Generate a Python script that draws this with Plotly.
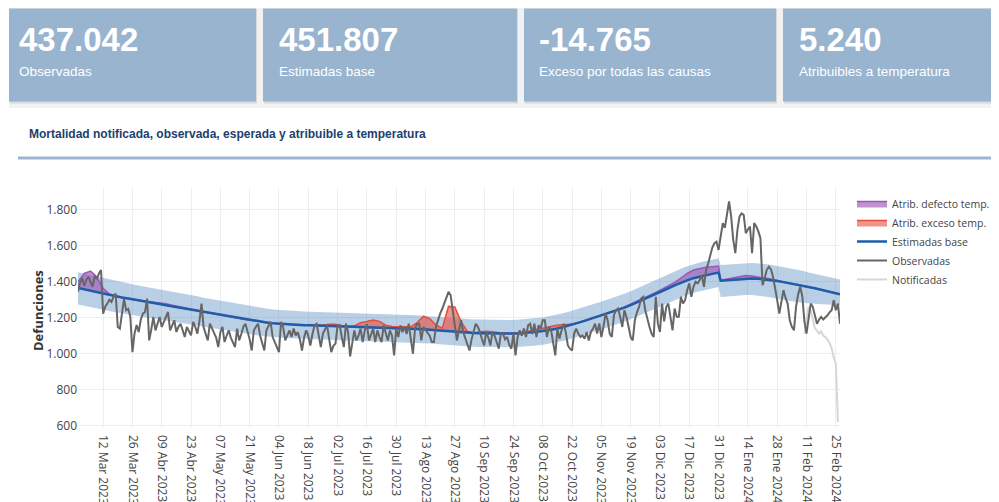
import plotly.graph_objects as go
import pandas as pd

# ---------------- data ----------------
START = "2023-02-28"

observed = [
    1344, 1395, 1420, 1378, 1412, 1428, 1398,
    1372, 1435, 1415, 1446, 1465, 1223, 1262,
    1279, 1300, 1288, 1318, 1335, 1149, 1140,
    1228, 1306, 1242, 1250, 1205, 1009, 1112,
    1160, 1121, 1190, 1223, 1232, 1306, 1074,
    1135, 1204, 1130, 1175, 1204, 1149, 1180,
    1210, 1232, 1130, 1160, 1186, 1121, 1150,
    1167, 1125, 1093, 1149, 1121, 1102, 1177,
    1150, 1112, 1180, 1279, 1149, 1110, 1074,
    1167, 1140, 1121, 1090, 1037, 1120, 1149,
    1065, 1100, 1130, 1090, 1060, 1037, 1140,
    1074, 1110, 1150, 1167, 1130, 1080, 1018,
    1130, 1150, 1167, 1100, 1060, 1018, 1130,
    1150, 1177, 1093, 1060, 1037, 1009, 1177,
    1149, 1074, 1102, 1130, 1093, 1140, 1102,
    1120, 1080, 1018, 1090, 1130, 1100, 1046,
    1110, 1158, 1167, 1090, 1037, 1112, 1140,
    1158, 1080, 1009, 1044, 1056, 1158, 1160,
    1093, 1037, 1167, 1121, 985, 1065, 1130,
    1074, 1100, 1140, 1065, 1130, 1165, 1074,
    1110, 1140, 1065, 1130, 1093, 1065, 1158,
    1120, 1074, 1130, 1100, 991, 1140, 1093,
    1158, 1120, 1149, 1110, 1167, 1080, 1000,
    1140, 1167, 1167, 1074, 1149, 1130, 1112,
    1100, 1065, 1065, 1150, 1190, 1223, 1250,
    1279, 1310, 1344, 1325, 1242, 1149, 1074,
    1130, 1186, 1121, 1090, 1060, 1018, 1080,
    1130, 1167, 1150, 1121, 1080, 1046, 1121,
    1090, 1046, 1121, 1100, 1060, 1028, 1112,
    1112, 1080, 1093, 1050, 1028, 1112, 991,
    1093, 1130, 1100, 1140, 1093, 1158, 1167,
    1110, 1167, 1093, 1158, 1140, 1186, 1186,
    1093, 1150, 1130, 1060, 991, 1140, 1084,
    1130, 1167, 1120, 1046, 1028, 1018, 1112,
    1140, 1112, 1093, 1102, 1084, 1121, 1074,
    1121, 1140, 1167, 1112, 1168, 1093, 1150,
    1223, 1186, 1112, 1093, 1214, 1242, 1251,
    1205, 1149, 1242, 1205, 1150, 1093, 1074,
    1186, 1230, 1260, 1307, 1316, 1240, 1190,
    1149, 1112, 1093, 1316, 1167, 1121, 1279,
    1180, 1260, 1279, 1205, 1130, 1251, 1205,
    1205, 1316, 1279, 1298, 1353, 1391, 1316,
    1372, 1400, 1391, 1409, 1437, 1372, 1465,
    1500, 1539, 1590, 1614, 1623, 1577, 1651,
    1725, 1700, 1772, 1846, 1763, 1633, 1559,
    1688, 1763, 1780, 1772, 1670, 1690, 1707,
    1559, 1726, 1707, 1680, 1642, 1381, 1420,
    1465, 1484, 1470, 1428, 1350, 1298, 1223,
    1290, 1353, 1310, 1279, 1186, 1150, 1130,
    1260, 1330, 1372, 1320, 1180, 1112, 1200,
    1279, 1260, 1210, 1167, 1190, 1205, 1190,
    1200, 1214, 1230, 1242, 1298, 1242, 1279,
    1167,
]

NOTIF_START = "2024-02-10"
notificadas = [1112, 1200, 1260, 1240, 1190, 1140, 1130, 1112, 1125,
               1100, 1093, 1080, 1060, 1030, 981, 944, 620]

# smooth model series, every 3 days (plus 1 Jan 2024 step)
smooth_days = list(range(0, 307, 3)) + list(range(307, 365, 3))

baseline = [
    1365, 1357, 1349, 1341, 1334, 1327, 1320, 1313, 1307, 1300,
    1294, 1288, 1282, 1276, 1270, 1264, 1258, 1252, 1246, 1240,
    1232, 1226, 1219, 1212, 1206, 1200, 1194, 1188, 1183, 1178,
    1174, 1170, 1167, 1164, 1162, 1160, 1159, 1158, 1157, 1155,
    1154, 1152, 1151, 1150, 1149, 1148, 1147, 1146, 1145, 1144,
    1143, 1142, 1141, 1140, 1138, 1136, 1133, 1130, 1127, 1123,
    1120, 1118, 1116, 1115, 1114, 1113, 1112, 1112, 1112, 1112,
    1113, 1115, 1118, 1122, 1126, 1131, 1138, 1146, 1155, 1165,
    1176, 1187, 1198, 1209, 1220, 1231, 1243, 1256, 1270, 1285,
    1300, 1316, 1332, 1348, 1364, 1380, 1395, 1408, 1420, 1429,
    1437, 1444, 1451,
    1406, 1409, 1412, 1415, 1417, 1418, 1417, 1414, 1409, 1404,
    1398, 1392, 1386, 1379, 1371, 1364, 1356, 1348, 1339, 1330,
]

band_upper = [
    1453, 1445, 1436, 1428, 1420, 1413, 1405, 1398, 1391, 1384,
    1377, 1371, 1364, 1358, 1351, 1345, 1338, 1332, 1326, 1319,
    1311, 1305, 1297, 1290, 1284, 1278, 1271, 1265, 1260, 1255,
    1251, 1246, 1243, 1240, 1238, 1236, 1235, 1234, 1233, 1231,
    1230, 1228, 1227, 1226, 1225, 1224, 1223, 1222, 1221, 1220,
    1219, 1218, 1217, 1216, 1214, 1212, 1209, 1206, 1203, 1199,
    1196, 1194, 1192, 1191, 1190, 1189, 1188, 1188, 1188, 1188,
    1189, 1191, 1194, 1198, 1202, 1208, 1215, 1223, 1232, 1242,
    1253, 1264, 1275, 1286, 1297, 1308, 1320, 1333, 1347, 1363,
    1378, 1394, 1410, 1426, 1442, 1458, 1473, 1486, 1498, 1507,
    1515, 1522, 1530,
    1493, 1496, 1499, 1502, 1503, 1504, 1502, 1499, 1494, 1488,
    1482, 1475, 1468, 1461, 1452, 1444, 1436, 1428, 1420, 1412,
]

band_lower = [
    1273, 1265, 1258, 1250, 1244, 1237, 1231, 1224, 1219, 1212,
    1207, 1201, 1196, 1190, 1185, 1179, 1174, 1168, 1163, 1157,
    1150, 1144, 1138, 1131, 1126, 1120, 1115, 1109, 1105, 1100,
    1096, 1093, 1090, 1087, 1086, 1084, 1083, 1082, 1081, 1079,
    1078, 1076, 1075, 1074, 1073, 1072, 1071, 1070, 1069, 1068,
    1067, 1066, 1065, 1064, 1062, 1060, 1057, 1054, 1051, 1047,
    1044, 1042, 1040, 1039, 1038, 1037, 1036, 1036, 1036, 1036,
    1037, 1039, 1042, 1046, 1050, 1055, 1062, 1069, 1078, 1088,
    1099, 1110, 1121, 1132, 1143, 1154, 1166, 1179, 1192, 1207,
    1222, 1237, 1253, 1268, 1283, 1299, 1314, 1327, 1339, 1348,
    1356, 1363, 1371,
    1316, 1319, 1322, 1325, 1326, 1326, 1323, 1318, 1312, 1305,
    1298, 1292, 1287, 1283, 1279, 1277, 1275, 1273, 1272, 1270,
]

attr_defecto = [
    35, 89, 110, 85, 29, 5, 0, 0, 0, 0,
    0, 3, 6, 8, 8, 6, 4, 2, 0, 0,
    0, 0, 0, 0, 0, 0, 0, 0, 0, 0,
    0, 0, 0, 0, 0, 0, 0, 0, 0, 0,
    0, 0, 0, 0, 0, 0, 0, 0, 0, 0,
    0, 0, 0, 0, 0, 0, 0, 0, 0, 0,
    0, 0, 0, 0, 0, 0, 0, 0, 0, 0,
    0, 0, 0, 0, 0, 0, 0, 0, 0, 0,
    0, 0, 0, 0, 0, 0, 3, 4, 5, 6,
    7, 8, 9, 10, 12, 16, 25, 38, 45, 46,
    44, 40, 36,
    2, 6, 10, 15, 18, 14, 10, 9, 6, 3,
    0, 0, 0, 0, 0, 0, 0, 0, 0, 0,
]

attr_exceso = [
    0, 0, 0, 0, 0, 0, 0, 0, 0, 0,
    0, 0, 0, 0, 0, 0, 0, 0, 0, 0,
    0, 0, 0, 0, 0, 0, 0, 0, 0, 0,
    0, 0, 0, 0, 0, 3, 4, 3, 2, 4,
    10, 12, 4, 2, 6, 25, 32, 42, 35, 15,
    8, 10, 12, 10, 35, 72, 62, 30, 15, 140,
    140, 60, 8, 2, 8, 12, 10, 4, 0, 0,
    0, 3, 8, 12, 16, 18, 19, 15, 6, 0,
    0, 0, 0, 0, 0, 0, 0, 0, 0, 0,
    0, 0, 0, 0, 0, 0, 0, 0, 0, 0,
    0, 0, 0,
    0, 0, 0, 0, 0, 0, 0, 0, 0, 0,
    0, 0, 0, 0, 0, 0, 0, 0, 0, 0,
]

tick_dates = ["2023-03-12", "2023-03-26", "2023-04-09", "2023-04-23", "2023-05-07",
              "2023-05-21", "2023-06-04", "2023-06-18", "2023-07-02", "2023-07-16",
              "2023-07-30", "2023-08-13", "2023-08-27", "2023-09-10", "2023-09-24",
              "2023-10-08", "2023-10-22", "2023-11-05", "2023-11-19", "2023-12-03",
              "2023-12-17", "2023-12-31", "2024-01-14", "2024-01-28", "2024-02-11",
              "2024-02-25"]
tick_labels = ["12 Mar 2023", "26 Mar 2023", "09 Abr 2023", "23 Abr 2023", "07 May 2023",
               "21 May 2023", "04 Jun 2023", "18 Jun 2023", "02 Jul 2023", "16 Jul 2023",
               "30 Jul 2023", "13 Ago 2023", "27 Ago 2023", "10 Sep 2023", "24 Sep 2023",
               "08 Oct 2023", "22 Oct 2023", "05 Nov 2023", "19 Nov 2023", "03 Dic 2023",
               "17 Dic 2023", "31 Dic 2023", "14 Ene 2024", "28 Ene 2024", "11 Feb 2024",
               "25 Feb 2024"]
y_ticks = [600, 800, 1000, 1200, 1400, 1600, 1800]
y_tick_labels = ["600", "800", "1.000", "1.200", "1.400", "1.600", "1.800"]

card_values = ["437.042", "451.807", "-14.765", "5.240"]
card_labels = ["Observadas", "Estimadas base", "Exceso por todas las causas",
               "Atribuibles a temperatura"]

# ---------------- build ----------------
assert len(observed) == 365
n_s = len(smooth_days)
assert len(baseline) == n_s and len(band_upper) == n_s and len(band_lower) == n_s
assert len(attr_defecto) == n_s and len(attr_exceso) == n_s

start = pd.Timestamp(START)
obs_dates = pd.date_range(START, periods=len(observed), freq="D")
notif_dates = pd.date_range(NOTIF_START, periods=len(notificadas), freq="D")
s_dates = [start + pd.Timedelta(days=d) for d in smooth_days]
def_top = [b + a for b, a in zip(baseline, attr_defecto)]
exc_top = [b + a for b, a in zip(baseline, attr_exceso)]

# the page body adds an 8px offset; layout below is expressed in page pixels
OFF = 8
W, H = 999 - OFF, 502 - OFF
P_LEFT, P_RIGHT, P_TOP, P_BOTTOM = 78, 840, 188, 427  # plot area in page pixels
ML = P_LEFT - OFF
MR = W - (P_RIGHT - OFF)
MT = P_TOP - OFF
MB = H - (P_BOTTOM - OFF)
PW, PH = P_RIGHT - P_LEFT, P_BOTTOM - P_TOP


def px(x):
    return (x - P_LEFT) / PW


def py(y):
    return (P_BOTTOM - y) / PH


fig = go.Figure()
# band
fig.add_trace(go.Scatter(x=s_dates, y=band_lower, mode="lines", line=dict(width=0),
                         showlegend=False, hoverinfo="skip"))
fig.add_trace(go.Scatter(x=s_dates, y=band_upper, mode="lines", line=dict(width=0),
                         fill="tonexty", fillcolor="rgba(70,130,190,0.38)",
                         showlegend=False, hoverinfo="skip"))
# purple attributable (cold)
fig.add_trace(go.Scatter(x=s_dates, y=baseline, mode="lines", line=dict(width=0),
                         showlegend=False, hoverinfo="skip"))
fig.add_trace(go.Scatter(x=s_dates, y=def_top, mode="lines", name="Atrib. defecto temp.",
                         line=dict(color="#9b59b6", width=1.5), fill="tonexty",
                         fillcolor="rgba(155,89,182,0.65)", legendrank=1))
# red attributable (heat)
fig.add_trace(go.Scatter(x=s_dates, y=baseline, mode="lines", line=dict(width=0),
                         showlegend=False, hoverinfo="skip"))
fig.add_trace(go.Scatter(x=s_dates, y=exc_top, mode="lines", name="Atrib. exceso temp.",
                         line=dict(color="#e74c3c", width=1.5), fill="tonexty",
                         fillcolor="rgba(231,76,60,0.6)", legendrank=2))
# baseline
fig.add_trace(go.Scatter(x=s_dates, y=baseline, mode="lines", name="Estimadas base",
                         line=dict(color="#1f5cab", width=2.5), legendrank=3))
# notificadas (under observed)
fig.add_trace(go.Scatter(x=notif_dates, y=notificadas, mode="lines", name="Notificadas",
                         line=dict(color="#d6d6d6", width=2), legendrank=5))
fig.add_trace(go.Scatter(x=obs_dates, y=observed, mode="lines", name="Observadas",
                         line=dict(color="#666666", width=2), legendrank=4))

shapes = []
# grey header strip
shapes.append(dict(type="rect", xref="paper", yref="paper", x0=px(9), x1=px(1010),
                   y0=py(108), y1=py(0), fillcolor="#f2f2f2", line=dict(width=0)))
card_x = [(9, 256), (263, 517), (524, 776), (783, 1010)]
for (x0, x1) in card_x:
    shapes.append(dict(type="rect", xref="paper", yref="paper", x0=px(x0 + 1), x1=px(x1 + 1),
                       y0=py(103.5), y1=py(9), fillcolor="rgba(0,0,0,0.10)",
                       line=dict(width=0)))
    shapes.append(dict(type="rect", xref="paper", yref="paper", x0=px(x0), x1=px(x1),
                       y0=py(101.5), y1=py(8.5), fillcolor="#98b4cf", line=dict(width=0)))
# underline of section title
shapes.append(dict(type="line", xref="paper", yref="paper", x0=px(18), x1=px(1010),
                   y0=py(158), y1=py(158), line=dict(color="#9bb6d2", width=3)))

annotations = []
text_x = [17, 277, 537, 797]
for tx, v, lab in zip(text_x, card_values, card_labels):
    annotations.append(dict(xref="paper", yref="paper", x=px(tx), y=py(40), text="<b>%s</b>" % v,
                            showarrow=False, xanchor="left", yanchor="middle",
                            font=dict(family="Liberation Sans, Arial", size=33, color="white")))
    annotations.append(dict(xref="paper", yref="paper", x=px(tx), y=py(71), text=lab,
                            showarrow=False, xanchor="left", yanchor="middle",
                            font=dict(family="Liberation Sans, Arial", size=13.5, color="white")))
annotations.append(dict(xref="paper", yref="paper", x=px(27), y=py(134),
                        text="<b>Mortalidad notificada, observada, esperada y atribuible a temperatura</b>",
                        showarrow=False, xanchor="left", yanchor="middle",
                        font=dict(family="Liberation Sans, Arial", size=12, color="#1d3f6e")))
annotations.append(dict(xref="paper", yref="paper", x=px(38), y=py(311),
                        text="<b>Defunciones</b>", textangle=-90,
                        showarrow=False, xanchor="center", yanchor="middle",
                        font=dict(size=13, color="#333")))

fig.update_layout(
    width=W, height=H,
    margin=dict(l=ML, r=MR, t=MT, b=MB, autoexpand=False),
    paper_bgcolor="white", plot_bgcolor="white",
    font=dict(family="Open Sans, Verdana, Arial", size=12, color="#444"),
    shapes=shapes, annotations=annotations,
    showlegend=True,
    legend=dict(x=px(852), y=py(189), xanchor="left", yanchor="top", bgcolor="rgba(0,0,0,0)",
                font=dict(size=10.5, color="#444"), tracegroupgap=0, traceorder="normal"),
    hovermode="x",
)
fig.update_xaxes(type="date", tickmode="array", tickvals=tick_dates, ticktext=tick_labels,
                 tickangle=90, showgrid=True, gridcolor="#eeeeee", zeroline=False,
                 showline=False, ticks="", tickfont=dict(size=12, color="#444"),
                 ticklabelstandoff=7, automargin=False)
fig.update_yaxes(range=[593, 1921], tickmode="array", tickvals=y_ticks, ticktext=y_tick_labels,
                 showgrid=True, gridcolor="#eeeeee", zeroline=False, showline=False,
                 tickfont=dict(size=12, color="#444"), automargin=False)

fig.write_html("out.html")
